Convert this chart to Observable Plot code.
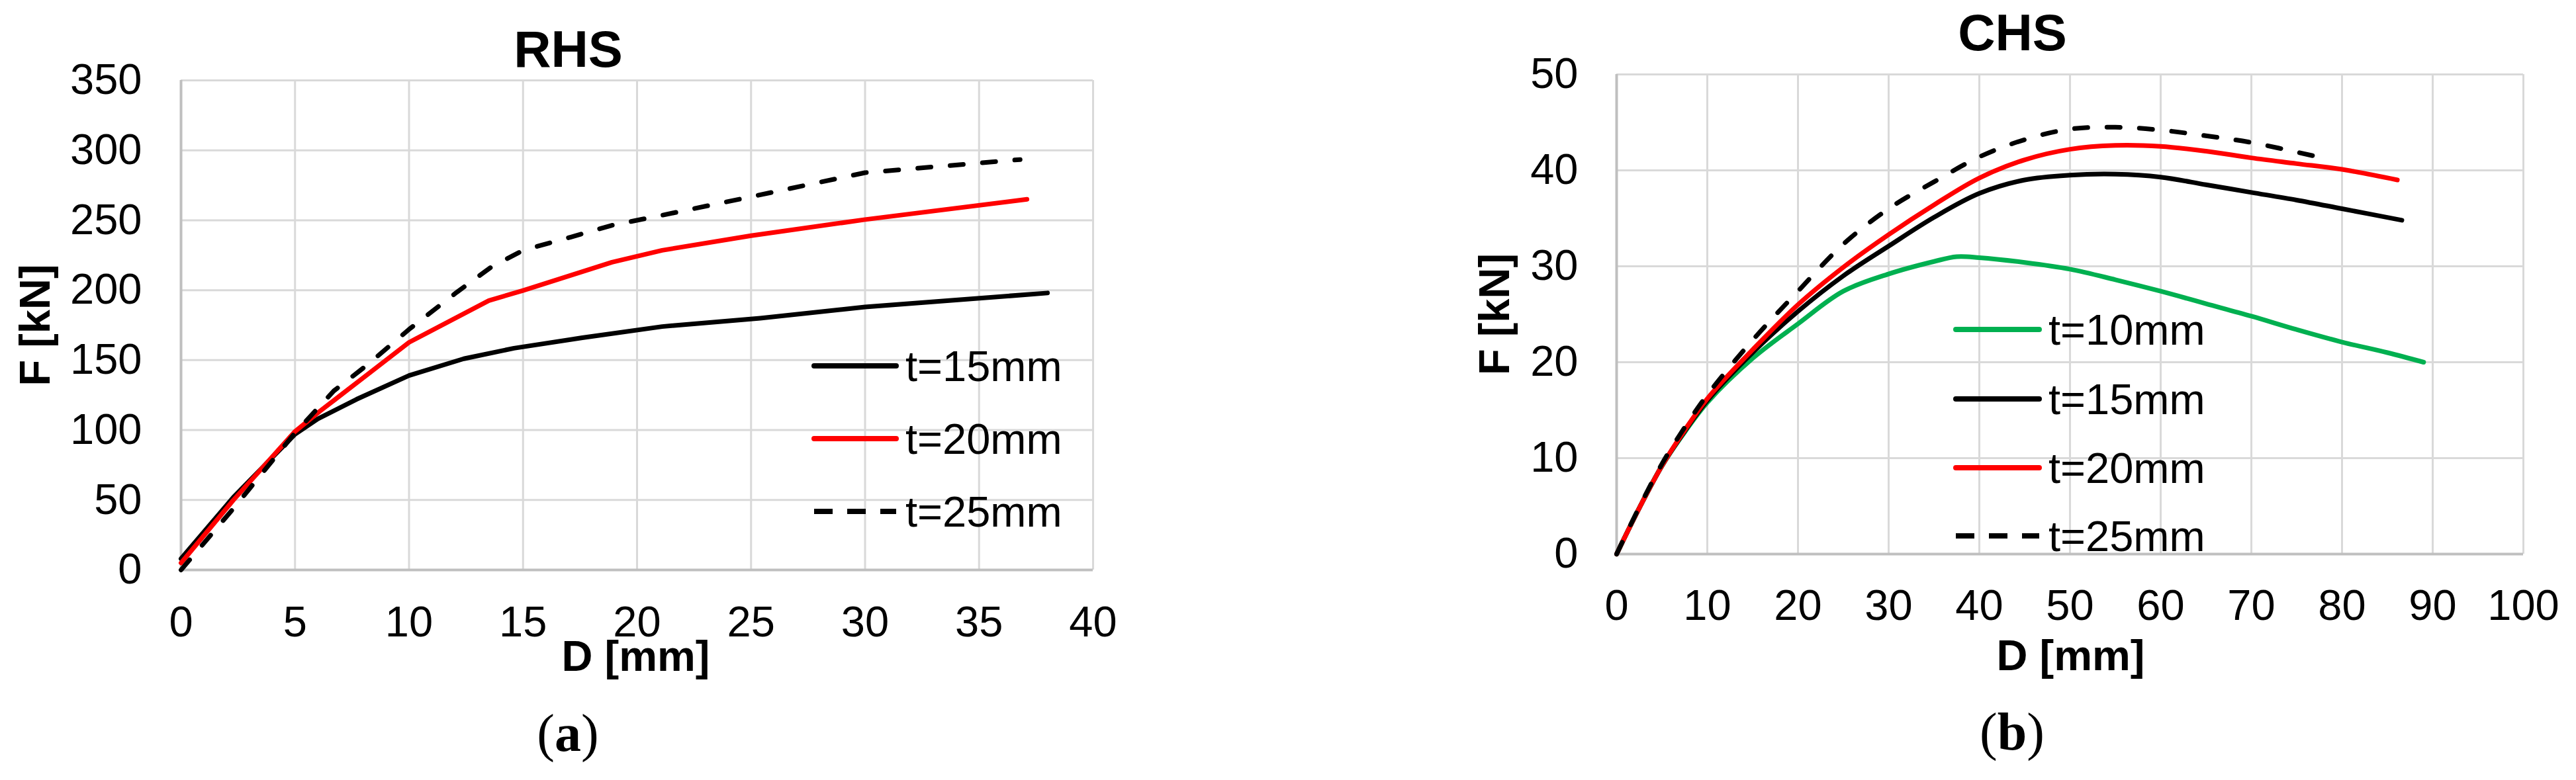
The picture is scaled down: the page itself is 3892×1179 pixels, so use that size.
<!DOCTYPE html>
<html>
<head>
<meta charset="utf-8">
<script src="https://cdn.jsdelivr.net/npm/d3@7"></script>
<script src="https://cdn.jsdelivr.net/npm/@observablehq/plot@0.6"></script>
<style>
  body { margin: 0; background: #fff; }
  #root { position: relative; width: 3892px; height: 1179px; overflow: hidden; background: #fff;
          font-family: "Liberation Sans", Arial, sans-serif; }
  .panel { position: absolute; top: 0; }
  .caption { position: absolute; transform: translate(-50%, -50%); font-family: "Liberation Serif", "Times New Roman", serif;
             font-size: 80px; line-height: 1; white-space: nowrap; color: #000; }
  #legend { position: absolute; left: 0; top: 0; pointer-events: none; }
</style>
</head>
<body>
<div id="root">
  <div id="left" class="panel" style="left:0px"></div>
  <div id="right" class="panel" style="left:1946px"></div>
  <div class="caption" style="left:858px; top:1108px">(<b>a</b>)</div>
  <div class="caption" style="left:3040px; top:1106px">(<b>b</b>)</div>
</div>
<script>
// ---------- RHS (a) ----------
const rhsXTicks = [0, 5, 10, 15, 20, 25, 30, 35, 40];
const rhsYTicks = [0, 50, 100, 150, 200, 250, 300, 350];

const rhsD15 = [0, 2.3, 5, 6, 7.7, 10, 12.4, 14.6, 17.6, 21.1, 25.4, 30, 38];
const rhsF15 = [8, 52, 97, 108, 122, 139, 151, 158.5, 166, 174, 180, 188, 198];

const rhsD20 = [0, 2.3, 5, 6.1, 8.2, 10, 13.5, 15, 18.9, 21.1, 25, 30, 37.1];
const rhsF20 = [5, 50, 99, 113.6, 140, 162.7, 192.6, 199.8, 220, 228.5, 239, 250.5, 265];

const rhsD25 = [0, 2.3, 5, 6.7, 8.2, 10, 12.1, 13.6, 15, 17.1, 18.9, 21.1, 25, 30, 36.8];
const rhsF25 = [0, 44, 98, 128, 147, 172, 198.6, 216.5, 228.5, 238, 246.4, 253.6, 266.8, 284, 293.4];

// ---------- CHS (b) ----------
const chsXTicks = [0, 10, 20, 30, 40, 50, 60, 70, 80, 90, 100];
const chsYTicks = [0, 10, 20, 30, 40, 50];

const chsD10 = [0, 2.5, 5, 7.5, 10, 15, 20, 25, 30, 35, 37.5, 40, 45, 50, 55, 60, 65, 70, 75, 80, 85, 89];
const chsF10 = [0, 4.8, 9.2, 12.7, 15.8, 20.4, 24.0, 27.4, 29.2, 30.5, 31.0, 30.9, 30.4, 29.7, 28.6, 27.4, 26.1, 24.8, 23.4, 22.1, 21.0, 20.0];

const chsD15 = [0, 2.5, 5, 7.5, 10, 15, 20, 25, 30, 35, 40, 45, 50, 55, 60, 65, 70, 75, 80, 86.6];
const chsF15 = [0, 4.8, 9.2, 12.8, 16.0, 21.0, 25.3, 29.0, 32.1, 35.1, 37.6, 39.0, 39.5, 39.6, 39.3, 38.5, 37.7, 36.9, 36.0, 34.8];

const chsD20 = [0, 2.5, 5, 7.5, 10, 15, 20, 25, 30, 35, 40, 45, 50, 55, 60, 65, 70, 75, 80, 86.1];
const chsF20 = [0, 4.8, 9.2, 12.9, 16.2, 21.3, 26.0, 29.9, 33.3, 36.4, 39.2, 41.1, 42.2, 42.6, 42.5, 42.0, 41.3, 40.7, 40.1, 39.0];

const chsD25 = [0, 2.5, 5, 7.5, 10, 15, 20, 25, 30, 35, 40, 45, 50, 55, 60, 65, 70, 76.9];
const chsF25 = [0, 4.9, 9.4, 13.2, 16.6, 22.3, 27.4, 32.3, 36.0, 38.8, 41.4, 43.2, 44.3, 44.5, 44.2, 43.6, 42.9, 41.5];

const legendRHS = ["t=15mm", "t=20mm", "t=25mm"];
const legendCHS = ["t=10mm", "t=15mm", "t=20mm", "t=25mm"];

const GREEN = "#00B050", RED = "#FF0000", BLACK = "#000000";
const GRID = "#D9D9D9", AXIS = "#BFBFBF";
const LW = 7;
const DASH = "20,29";

function rows(xs, ys) { return xs.map((x, i) => ({D: x, F: ys[i]})); }

const baseStyle = {
  fontFamily: '"Liberation Sans", Arial, sans-serif',
  color: "#000",
  background: "transparent",
  overflow: "visible"
};

function frameMarks(xt, yt, padX, padY) {
  return [
    Plot.gridX(xt, {stroke: GRID, strokeOpacity: 1, strokeWidth: 3}),
    Plot.gridY(yt, {stroke: GRID, strokeOpacity: 1, strokeWidth: 3}),
    Plot.ruleX([xt[0]], {stroke: AXIS, strokeWidth: 4}),
    Plot.ruleY([yt[0]], {stroke: AXIS, strokeWidth: 4}),
    Plot.axisX(xt, {tickSize: 0, tickPadding: padX, fontSize: 65, label: null}),
    Plot.axisY(yt, {tickSize: 0, tickPadding: padY, fontSize: 65, label: null})
  ];
}

function labelMarks(title, tdx, tdy, ydx, xdx, xdy) {
  const common = {fontWeight: "bold", textAnchor: "middle", lineAnchor: "middle", fill: "#000"};
  return [
    Plot.text([title], {...common, frameAnchor: "top-left", dx: tdx, dy: tdy, fontSize: 78}),
    Plot.text(["F [kN]"], {...common, frameAnchor: "left", dx: ydx, rotate: -90, fontSize: 65}),
    Plot.text(["D [mm]"], {...common, frameAnchor: "bottom-left", dx: xdx, dy: xdy, fontSize: 65})
  ];
}

const lineOpts = {x: "D", y: "F", strokeWidth: LW, strokeLinecap: "round", strokeLinejoin: "round"};

const rhs = Plot.plot({
  width: 1946, height: 1179,
  marginLeft: 273, marginRight: 295, marginTop: 121, marginBottom: 318,
  x: {domain: [0, 40]},
  y: {domain: [0, 350]},
  style: baseStyle,
  marks: [
    ...frameMarks(rhsXTicks, rhsYTicks, 54, 59),
    Plot.line(rows(rhsD15, rhsF15), {...lineOpts, stroke: BLACK}),
    Plot.line(rows(rhsD20, rhsF20), {...lineOpts, stroke: RED}),
    Plot.line(rows(rhsD25, rhsF25), {...lineOpts, stroke: BLACK, strokeDasharray: DASH}),
    ...labelMarks("RHS", 585, -45, -219, 687, 132)
  ]
});
document.getElementById("left").appendChild(rhs);

const chsLine = {...lineOpts, curve: "catmull-rom"};
const chs = Plot.plot({
  width: 1946, height: 1179,
  marginLeft: 496, marginRight: 80, marginTop: 112, marginBottom: 342,
  x: {domain: [0, 100]},
  y: {domain: [0, 50]},
  style: baseStyle,
  marks: [
    ...frameMarks(chsXTicks, chsYTicks, 53, 58),
    Plot.line(rows(chsD10, chsF10), {...chsLine, stroke: GREEN}),
    Plot.line(rows(chsD15, chsF15), {...chsLine, stroke: BLACK}),
    Plot.line(rows(chsD20, chsF20), {...chsLine, stroke: RED}),
    Plot.line(rows(chsD25, chsF25), {...chsLine, stroke: BLACK, strokeDasharray: DASH}),
    ...labelMarks("CHS", 598, -61, -183, 686, 155)
  ]
});
document.getElementById("right").appendChild(chs);

// ---------- Legends (overlaid on the plot areas) ----------
const svg = d3.select("#root").append("svg").attr("id", "legend")
  .attr("width", 3892).attr("height", 1179);

function legend(labels, colors, dashed, x0, x1, tx, ys) {
  labels.forEach((lab, i) => {
    const y = ys[i];
    svg.append("line").attr("x1", x0).attr("x2", x1).attr("y1", y).attr("y2", y)
      .attr("stroke", colors[i]).attr("stroke-width", 8)
      .attr("stroke-linecap", dashed[i] ? "butt" : "round")
      .attr("stroke-dasharray", dashed[i] ? "28,22" : null);
    svg.append("text").attr("x", tx).attr("y", y + 0.358 * 65)
      .attr("font-size", 65).attr("font-family", '"Liberation Sans", Arial, sans-serif')
      .attr("fill", "#000").text(lab);
  });
}
legend(legendRHS, [BLACK, RED, BLACK], [false, false, true], 1230, 1354, 1368, [553, 663, 773]);
legend(legendCHS, [GREEN, BLACK, RED, BLACK], [false, false, false, true], 2955, 3081, 3095, [498, 603, 707, 810]);
</script>
</body>
</html>
